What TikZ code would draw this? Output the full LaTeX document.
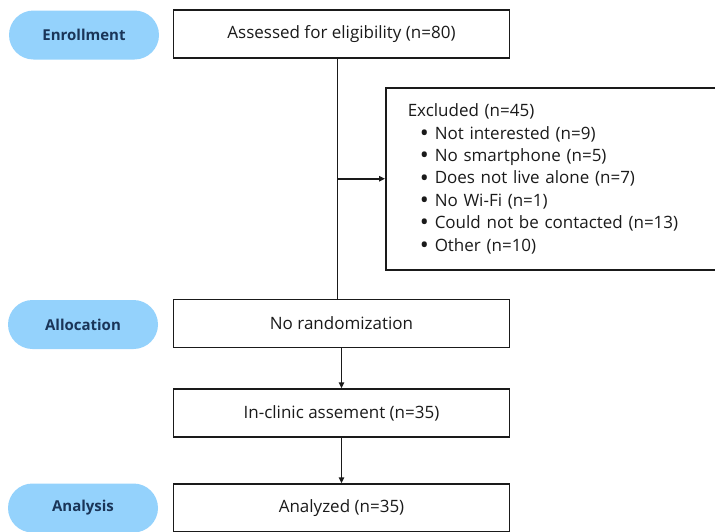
\documentclass[tikz,border=0pt]{standalone}
\usepackage{fontspec}
\setmainfont{Open Sans}
\usetikzlibrary{arrows.meta}
\definecolor{pill}{HTML}{94D2FC}
\definecolor{navy}{HTML}{1A3558}
\definecolor{ink}{HTML}{1A1A1A}
\newcommand{\blt}{\hspace*{12pt}\makebox[15pt][l]{\smash{\raisebox{-2.2pt}{\fontsize{24}{22.4}\selectfont\textbullet}}}}
\begin{document}
\begin{tikzpicture}[x=1pt,y=-1pt,
  phase/.style={rounded corners=24.5pt, fill=pill, minimum width=150pt, minimum height=49pt,
    font=\fontsize{15}{17}\selectfont\bfseries, text=navy, inner sep=0pt},
  stage/.style={draw=ink, line width=1.5pt, minimum width=336pt, minimum height=48pt,
    font=\fontsize{17}{20}\selectfont, text=ink, inner sep=0pt},
  conn/.style={line width=1.5pt, draw=ink},
  arr/.style={conn, -{Triangle[length=6pt,width=5.5pt]}}]
\useasboundingbox (0,0) rectangle (715,531);
\clip (0,0) rectangle (715,531);
% phase labels
\node[phase] (enr) at (84,35) {Enrollment};
\node[phase] (alloc) at (83,324.5) {Allocation};
\node[phase] (anal) at (83,508) {Analysis};
% stage boxes
\node[stage] (assess) at (341.5,34) {Assessed for eligibility (n=80)};
\node[stage] (norand) at (341.5,323.5) {No randomization};
\node[stage] (inclinic) at (341.5,413) {In-clinic assement (n=35)};
\node[stage] (analyzed) at (341.5,508) {Analyzed (n=35)};
% excluded box
\node[draw=ink, line width=1.5pt, anchor=north west, minimum height=182pt,
  text width=300pt, align=left, inner xsep=22pt, inner ysep=0pt,
  font=\fontsize{17}{22.4}\selectfont, text=ink] (excl) at (385,87)
  {Excluded (n=45)\\
   \blt Not interested (n=9)\\
   \blt No smartphone (n=5)\\
   \blt Does not live alone (n=7)\\
   \blt No Wi-Fi (n=1)\\
   \blt Could not be contacted (n=13)\\
   \blt Other (n=10)};
% connectors
\draw[conn] ([xshift=-4pt]assess.south) -- ([xshift=-4pt]norand.north);
\coordinate (br) at ([xshift=-4pt]assess.south |- excl.west);
\draw[arr] (br) -- (excl.west);
\draw[arr] (norand) -- (inclinic);
\draw[arr] (inclinic) -- (analyzed);
\end{tikzpicture}
\end{document}
